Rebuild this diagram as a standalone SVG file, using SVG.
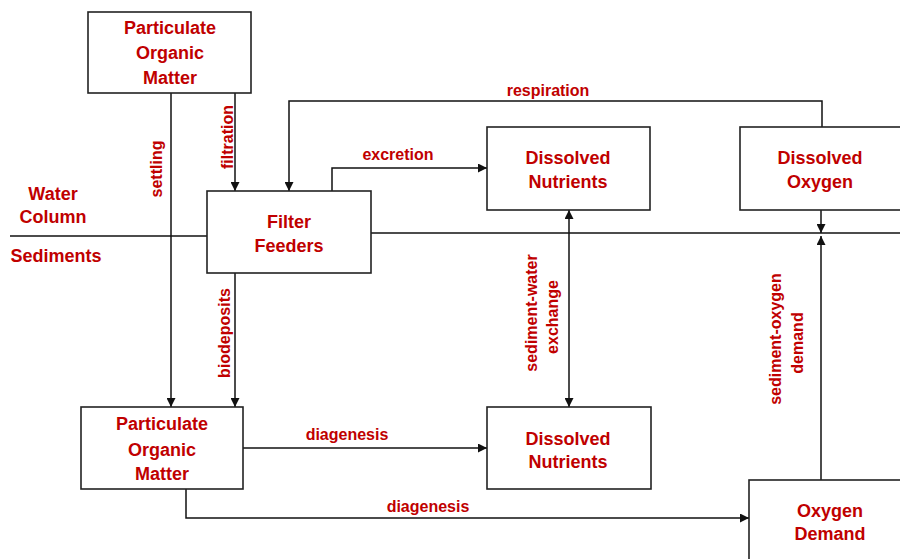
<svg xmlns="http://www.w3.org/2000/svg" width="900" height="559" viewBox="0 0 900 559">
<defs>
<marker id="ah" viewBox="0 0 10 10" refX="10" refY="5" markerWidth="9" markerHeight="9" markerUnits="userSpaceOnUse" orient="auto-start-reverse">
<path d="M0,0 L10,5 L0,10 z" fill="#111"/>
</marker>
<style>
.box{fill:#fff;stroke:#222;stroke-width:1.6}
.nt{font-family:"Liberation Sans",Arial,sans-serif;font-weight:bold;font-size:18px;fill:#c00000;text-anchor:middle}
.el{font-family:"Liberation Sans",Arial,sans-serif;font-weight:bold;font-size:16px;fill:#c00000;text-anchor:middle}
.ln{fill:none;stroke:#111;stroke-width:1.5}
</style>
</defs>
<rect width="900" height="559" fill="#fff"/>
<g id="connectors">
<path class="ln" d="M10,236 H207"/>
<path class="ln" d="M371,233 H900"/>
<path class="ln" d="M171,93 V407" marker-end="url(#ah)"/>
<path class="ln" d="M235,93 V191" marker-end="url(#ah)"/>
<path class="ln" d="M235,273 V407" marker-end="url(#ah)"/>
<path class="ln" d="M822,127 V101 H289 V191" marker-end="url(#ah)"/>
<path class="ln" d="M332,191 V168 H487" marker-end="url(#ah)"/>
<path class="ln" d="M569,210 V407" marker-start="url(#ah)" marker-end="url(#ah)"/>
<path class="ln" d="M821,210 V233" marker-end="url(#ah)"/>
<path class="ln" d="M821,480 V236" marker-end="url(#ah)"/>
<path class="ln" d="M243,448 H487" marker-end="url(#ah)"/>
<path class="ln" d="M186,489 V518 H749" marker-end="url(#ah)"/>
<text class="el" x="548" y="96">respiration</text>
<text class="el" x="398" y="160">excretion</text>
<text class="el" x="347" y="440">diagenesis</text>
<text class="el" x="428" y="512">diagenesis</text>
<text class="el" transform="translate(162,169) rotate(-90)">settling</text>
<text class="el" transform="translate(233,137) rotate(-90)">filtration</text>
<text class="el" transform="translate(230,333) rotate(-90)">biodeposits</text>
<text class="el" transform="translate(537,313) rotate(-90)">sediment-water</text>
<text class="el" transform="translate(558,317) rotate(-90)">exchange</text>
<text class="el" transform="translate(781,339) rotate(-90)">sediment-oxygen</text>
<text class="el" transform="translate(803,343) rotate(-90)">demand</text>
</g>
<g id="labels-zones">
<text class="nt" x="53" y="200">Water</text>
<text class="nt" x="53" y="223">Column</text>
<text class="nt" x="56" y="262">Sediments</text>
</g>
<g id="pom-top">
<rect class="box" x="88" y="12" width="163" height="81"/>
<text class="nt" x="170" y="34">Particulate</text>
<text class="nt" x="170" y="59">Organic</text>
<text class="nt" x="170" y="84">Matter</text>
</g>
<g id="filter-feeders">
<rect class="box" x="207" y="191" width="164" height="82"/>
<text class="nt" x="289" y="228">Filter</text>
<text class="nt" x="289" y="252">Feeders</text>
</g>
<g id="dn-top">
<rect class="box" x="487" y="127" width="163" height="83"/>
<text class="nt" x="568" y="164">Dissolved</text>
<text class="nt" x="568" y="188">Nutrients</text>
</g>
<g id="do">
<rect class="box" x="740" y="127" width="170" height="83"/>
<text class="nt" x="820" y="164">Dissolved</text>
<text class="nt" x="820" y="188">Oxygen</text>
</g>
<g id="pom-bottom">
<rect class="box" x="81" y="407" width="162" height="82"/>
<text class="nt" x="162" y="430">Particulate</text>
<text class="nt" x="162" y="456">Organic</text>
<text class="nt" x="162" y="480">Matter</text>
</g>
<g id="dn-bottom">
<rect class="box" x="487" y="407" width="164" height="82"/>
<text class="nt" x="568" y="445">Dissolved</text>
<text class="nt" x="568" y="468">Nutrients</text>
</g>
<g id="oxygen-demand">
<rect class="box" x="749" y="480" width="170" height="90"/>
<text class="nt" x="830" y="517">Oxygen</text>
<text class="nt" x="830" y="540">Demand</text>
</g>
</svg>
